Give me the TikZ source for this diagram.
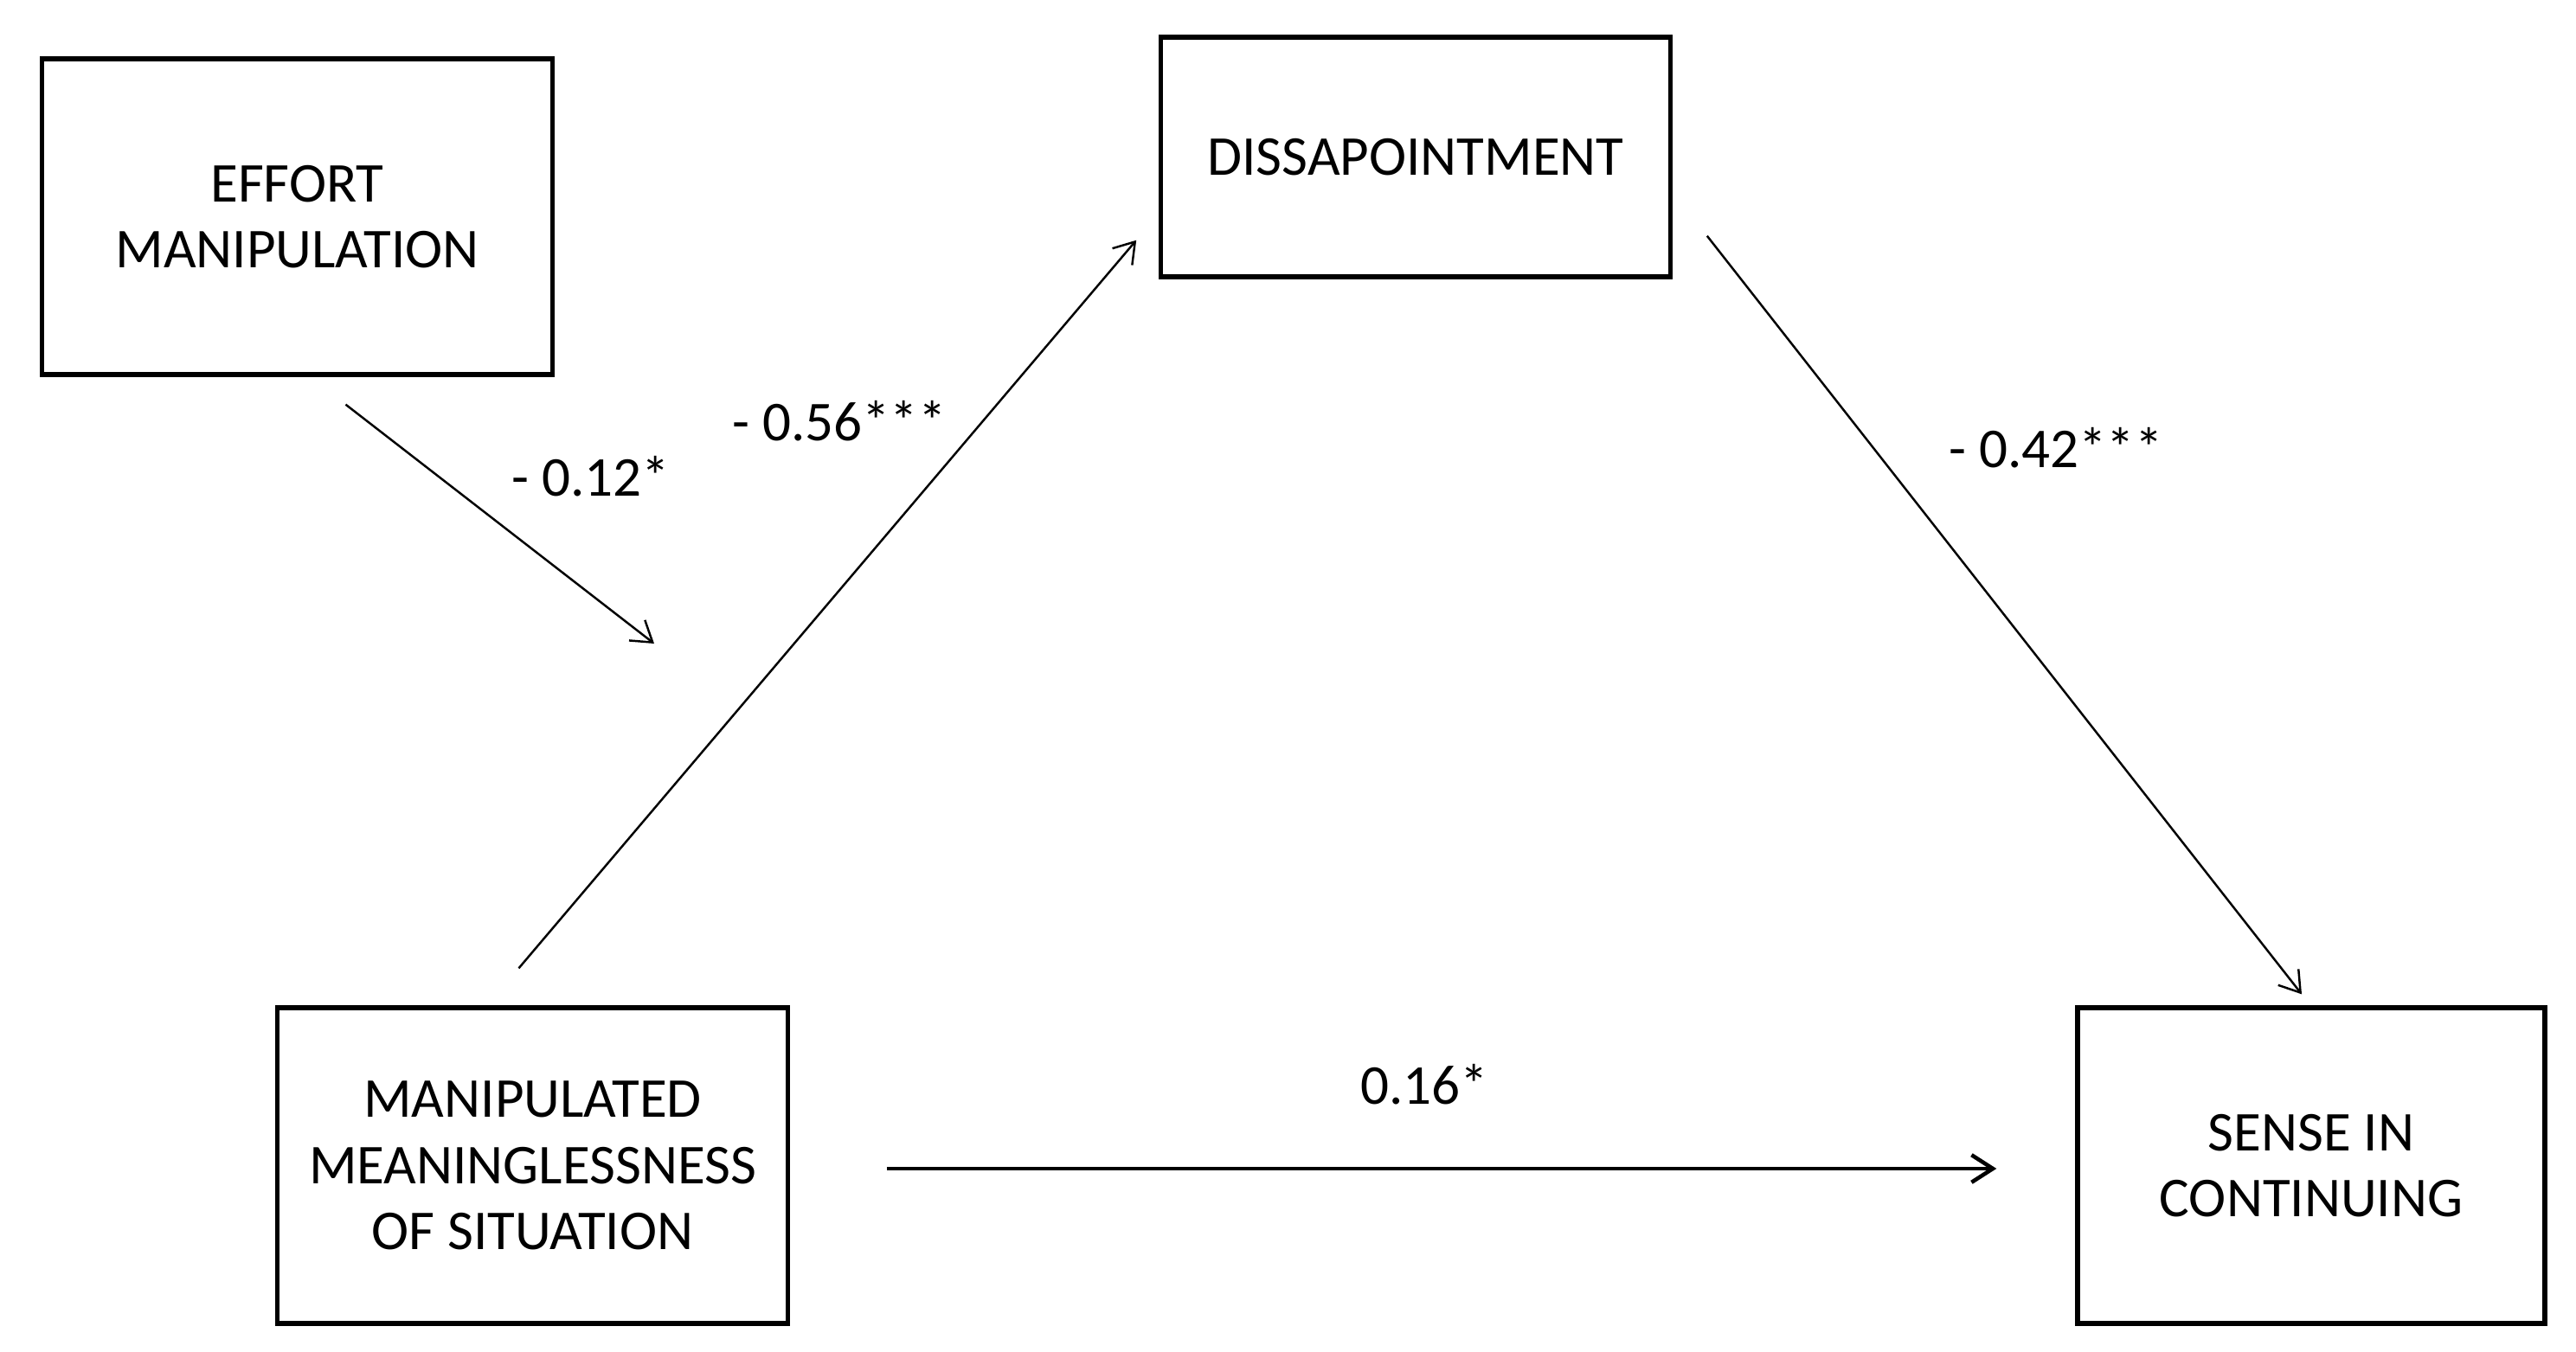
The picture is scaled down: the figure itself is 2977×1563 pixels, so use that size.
\documentclass[tikz,border=0pt]{standalone}
\usepackage{fontspec}
\setmainfont{Carlito}
\usetikzlibrary{arrows.meta,calc}
\begin{document}
\begin{tikzpicture}[x=0.01cm,y=-0.01cm,
  box/.style={draw=black,line width=1.5pt,rectangle,align=center,inner sep=0pt,
    font=\fontsize{18.5}{21.8}\selectfont},
  lbl/.style={font=\fontsize{18.5}{21.8}\selectfont,inner sep=0pt},
  thinarrow/.style={line width=0.7pt,-{Straight Barb[length=6.5pt,width=8.5pt]}},
  thickarrow/.style={line width=1.3pt,-{Straight Barb[length=7pt,width=9pt]}}]
\useasboundingbox[fill=white] (0,0) rectangle (2977,1563);
\node[box,minimum width=167.6pt,minimum height=103.8pt] (effort) at (343.5,250.5) {EFFORT\\MANIPULATION};
\node[box,minimum width=167.3pt,minimum height=78.8pt] (diss) at (1636,181.5) {DISSAPOINTMENT};
\node[box,minimum width=167.6pt,minimum height=103.8pt] (manip) at (615.5,1347.5) {MANIPULATED\\MEANINGLESSNESS\\OF SITUATION};
\node[box,minimum width=153.6pt,minimum height=103.8pt] (sense) at (2671,1347.5) {SENSE IN\\CONTINUING};
% connector end points
\coordinate (e1) at ($(effort.south)+(56,32)$);
\coordinate (mod) at (756,744);
\coordinate (m1) at ($(manip.north)+(-16,-43)$);
\coordinate (d1) at ($(diss.south west)+(-26,-45)$);
\coordinate (d2) at ($(diss.south east)+(40,-50)$);
\coordinate (s1) at ($(sense.north)+(-11,-13)$);
\coordinate (m2) at ($(manip.east)+(112,3.5)$);
\coordinate (s2) at ($(sense.west)+(-91,3.5)$);
\draw[thinarrow] (e1) -- (mod);
\draw[thinarrow] (m1) -- (d1);
\draw[thinarrow] (d2) -- (s1);
\draw[thickarrow] (m2) -- (s2);
\node[lbl] (l1) at (683,551) {- 0.12*};
\node[lbl] (l2) at (970,487) {- 0.56***};
\node[lbl] (l3) at (2376,518) {- 0.42***};
\node[lbl] (l4) at (1646,1254) {0.16*};
\end{tikzpicture}
\end{document}
